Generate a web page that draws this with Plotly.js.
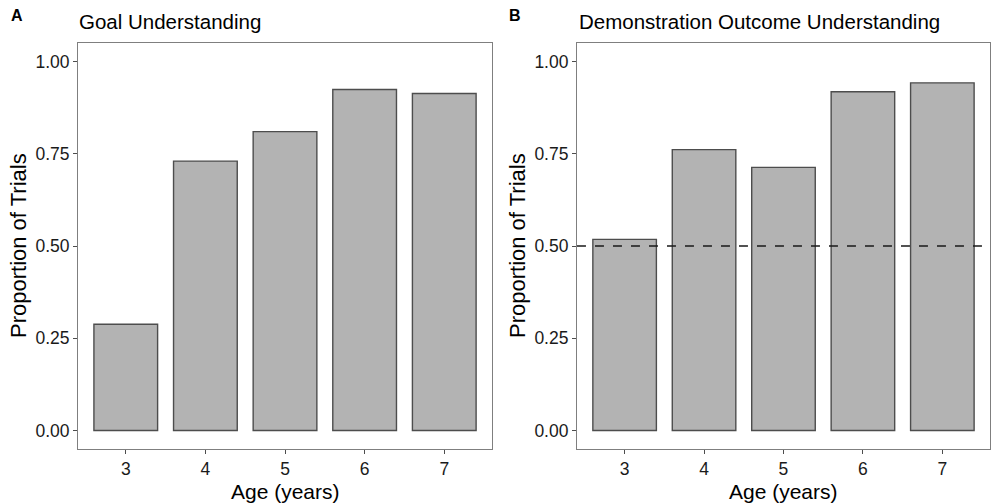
<!DOCTYPE html>
<html>
<head>
<meta charset="utf-8">
<script src="https://cdn.plot.ly/plotly-3.0.1.min.js"></script>
<style>html,body{margin:0;padding:0;background:#fff;}#chart{width:991px;height:504px;}</style>
</head>
<body>
<div id="chart"></div>
<script>
const ages = ["3", "4", "5", "6", "7"];
const goalUnderstanding = [0.288, 0.730, 0.810, 0.924, 0.913];
const outcomeUnderstanding = [0.518, 0.761, 0.713, 0.918, 0.942];
const chanceLevel = 0.5;
const yTicks = [0, 0.25, 0.5, 0.75, 1.0];
const yTickLabels = ["0.00", "0.25", "0.50", "0.75", "1.00"];

const FONT = "Liberation Sans, Arial, Helvetica, sans-serif";
const barStyle = {color: "#b3b3b3", line: {color: "#4d4d4d", width: 1.4}};

const traces = [
  {type: "bar", x: ages, y: goalUnderstanding, xaxis: "x", yaxis: "y", width: 0.8, marker: barStyle, hoverinfo: "x+y"},
  {type: "bar", x: ages, y: outcomeUnderstanding, xaxis: "x2", yaxis: "y2", width: 0.8, marker: barStyle, hoverinfo: "x+y"}
];

function xa(domain, anchor) {
  return {
    domain: domain, anchor: anchor, type: "category", range: [-0.6, 4.6],
    showline: true, mirror: true, linecolor: "#7f7f7f", linewidth: 1,
    ticks: "outside", ticklen: 4, tickcolor: "#4d4d4d", tickwidth: 1,
    tickfont: {family: FONT, size: 17.5, color: "#1a1a1a"},
    showgrid: false, zeroline: false, fixedrange: true
  };
}
function ya(anchor) {
  return {
    domain: [0.1091, 0.9147], anchor: anchor, range: [-0.05, 1.05],
    tickvals: yTicks, ticktext: yTickLabels,
    showline: true, mirror: true, linecolor: "#7f7f7f", linewidth: 1,
    ticks: "outside", ticklen: 4, tickcolor: "#4d4d4d", tickwidth: 1,
    tickfont: {family: FONT, size: 17.5, color: "#1a1a1a"},
    showgrid: false, zeroline: false, fixedrange: true
  };
}

const layout = {
  width: 991, height: 504,
  margin: {l: 0, r: 0, t: 0, b: 0},
  paper_bgcolor: "#fff", plot_bgcolor: "#fff",
  showlegend: false, bargap: 0.2,
  xaxis: xa([0.0787, 0.4965], "y"),
  yaxis: ya("x"),
  xaxis2: xa([0.5822, 0.999], "y2"),
  yaxis2: ya("x2"),
  shapes: [
    {type: "line", xref: "x2 domain", yref: "y2", x0: 0, x1: 1, y0: chanceLevel, y1: chanceLevel,
     line: {color: "#1a1a1a", width: 1.4, dash: "dash"}}
  ],
  annotations: [
    {text: "<b>A</b>", xref: "paper", yref: "paper", x: 9/991, y: 1 - 15/504, xanchor: "left", yanchor: "middle", showarrow: false, font: {family: FONT, size: 16, color: "#000"}},
    {text: "<b>B</b>", xref: "paper", yref: "paper", x: 507/991, y: 1 - 15/504, xanchor: "left", yanchor: "middle", showarrow: false, font: {family: FONT, size: 16, color: "#000"}},
    {text: "Goal Understanding", xref: "paper", yref: "paper", x: 77/991, y: 1 - 22/504, xanchor: "left", yanchor: "middle", showarrow: false, font: {family: FONT, size: 20.5, color: "#000"}},
    {text: "Demonstration Outcome Understanding", xref: "paper", yref: "paper", x: 577/991, y: 1 - 22/504, xanchor: "left", yanchor: "middle", showarrow: false, font: {family: FONT, size: 20.5, color: "#000"}},
    {text: "Proportion of Trials", xref: "paper", yref: "paper", x: 18/991, y: 1 - 246/504, xanchor: "center", yanchor: "middle", textangle: -90, showarrow: false, font: {family: FONT, size: 22, color: "#000"}},
    {text: "Proportion of Trials", xref: "paper", yref: "paper", x: 517/991, y: 1 - 246/504, xanchor: "center", yanchor: "middle", textangle: -90, showarrow: false, font: {family: FONT, size: 22, color: "#000"}},
    {text: "Age (years)", xref: "paper", yref: "paper", x: 285/991, y: 1 - 491/504, xanchor: "center", yanchor: "middle", showarrow: false, font: {family: FONT, size: 21, color: "#000"}},
    {text: "Age (years)", xref: "paper", yref: "paper", x: 783/991, y: 1 - 491/504, xanchor: "center", yanchor: "middle", showarrow: false, font: {family: FONT, size: 21, color: "#000"}}
  ]
};

Plotly.newPlot("chart", traces, layout, {staticPlot: true, displayModeBar: false});
</script>
</body>
</html>
